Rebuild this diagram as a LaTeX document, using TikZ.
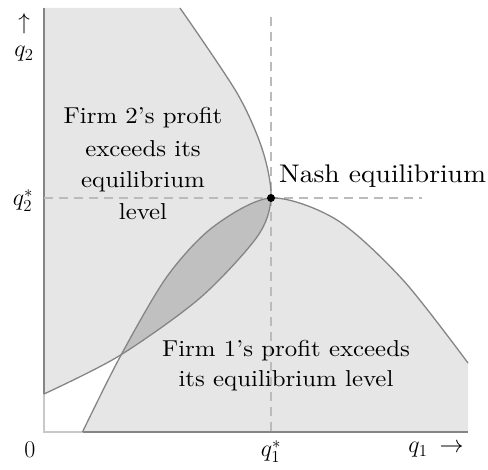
\RequirePackage{fix-cm}
\documentclass[tikz,border=0pt]{standalone}
\usepackage{fontspec}
\setmainfont{lmroman10-regular.otf}[FakeStretch=1.08]
\definecolor{lightfill}{HTML}{E6E6E6}
\definecolor{lensfill}{HTML}{C0C0C0}
\definecolor{curvegray}{HTML}{858585}
\definecolor{axisgray}{HTML}{C8C8C8}
\definecolor{dashgray}{HTML}{BBBBBB}
\begin{document}
\begin{tikzpicture}[x=1pt,y=-1pt,
  curve/.style={draw=curvegray,line width=1.3pt,line join=round},
  edge/.style={draw=curvegray,line width=1.8pt},
  guide/.style={draw=dashgray,line width=1.4pt,dash pattern=on 9pt off 6pt},
  lbl/.style={font=\fontsize{23}{30}\selectfont,inner sep=0pt,anchor=base}]
\useasboundingbox (0,0) rectangle (488,470);
% regions
\fill[lightfill] (44,8) -- plot[smooth] coordinates {(180,8) (237,93) (262.5,150) (271,198) (257,237) (200,298) (119,356) (44,394)} -- cycle;
\fill[lightfill] plot[smooth] coordinates {(82.5,432) (120,357) (166.7,277) (213,227) (271,198) (337,220) (403,280) (468,363)} -- (468,432) -- cycle;
\begin{scope}
  \clip (44,8) -- plot[smooth] coordinates {(180,8) (237,93) (262.5,150) (271,198) (257,237) (200,298) (119,356) (44,394)} -- cycle;
  \fill[lensfill] plot[smooth] coordinates {(82.5,432) (120,357) (166.7,277) (213,227) (271,198) (337,220) (403,280) (468,363)} -- (468,432) -- cycle;
\end{scope}
% axes
\coordinate (top) at (44,8);
\coordinate (orig) at (44,432);
\coordinate (xend) at (468,432);
\coordinate (ax2) at (44,394);
\coordinate (ax1) at (82.5,432);
\draw[draw=axisgray,line width=1.5pt] (top) -- (orig) -- (xend);
\draw[edge] (top) -- (ax2);
\draw[edge] (ax1) -- (xend);
% guides
\coordinate (vtop) at (271,17);
\coordinate (vbot) at (271,432);
\coordinate (hl) at (44,198);
\coordinate (hr) at (422,198);
\draw[guide] (vtop) -- (vbot);
\draw[guide] (hl) -- (hr);
% curves
\draw[curve] plot[smooth] coordinates {(180,8) (237,93) (262.5,150) (271,198) (257,237) (200,298) (119,356) (44,394)};
\draw[curve] plot[smooth] coordinates {(82.5,432) (120,357) (166.7,277) (213,227) (271,198) (337,220) (403,280) (468,363)};
\node[circle,fill=black,inner sep=0pt,minimum size=8pt] (nash) at (271,198) {};
% labels
\node[lbl] (uparr) at (24,30) {$\uparrow$};
\node[lbl,font=\fontsize{24}{30}\selectfont] (q2) at (24,57) {$q_2$};
\node[lbl,font=\fontsize{24}{30}\selectfont] (q2s) at (23,206) {$q_2^*$};
\node[lbl,font=\fontsize{24}{30}\selectfont] (zero) at (30,458) {$0$};
\node[lbl,font=\fontsize{24}{30}\selectfont] (q1s) at (271,457) {$q_1^*$};
\node[lbl,font=\fontsize{24}{30}\selectfont] (q1) at (436,453) {$q_1\:\rightarrow$};
\node[lbl,anchor=base west,font=\fontsize{25.5}{30}\selectfont] (nashlbl) at (279,183) {Nash equilibrium};
\node[lbl] (f2a) at (143,124) {Firm 2's profit};
\node[lbl] (f2b) at (143,157) {exceeds its};
\node[lbl] (f2c) at (143,188) {equilibrium};
\node[lbl] (f2d) at (143,220) {level};
\node[lbl] (f1a) at (286,357) {Firm 1's profit exceeds};
\node[lbl] (f1b) at (286,387) {its equilibrium level};
\end{tikzpicture}
\end{document}
